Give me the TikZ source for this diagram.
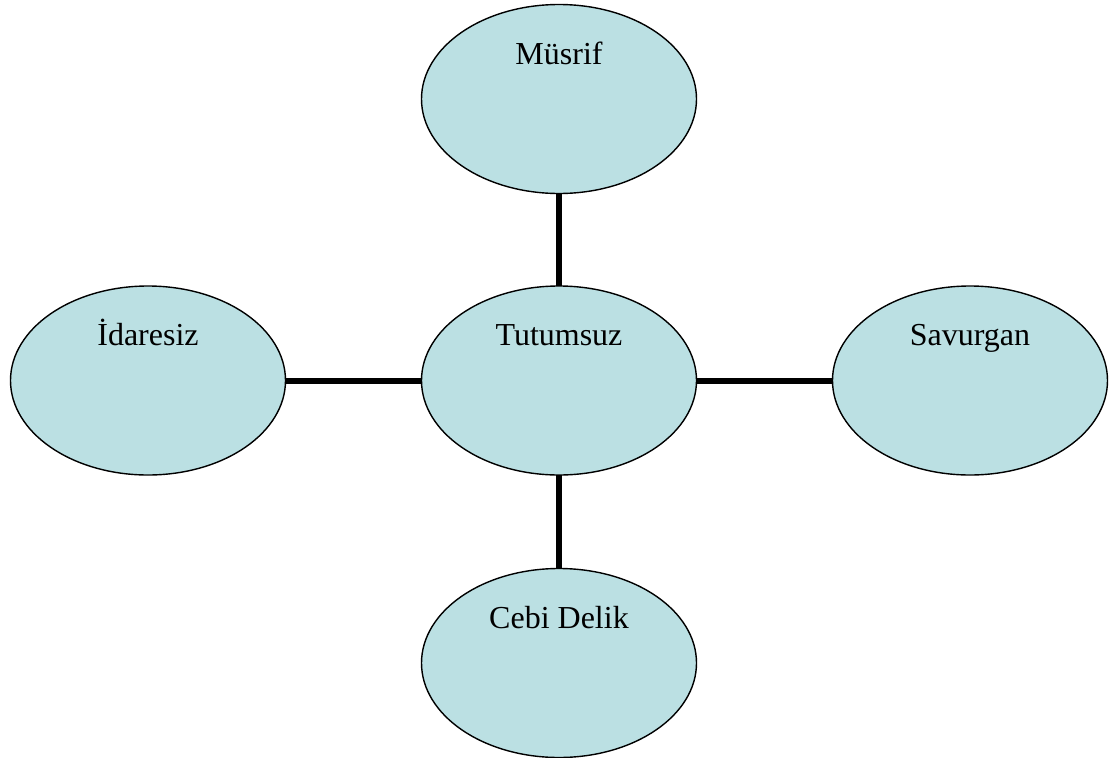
\documentclass[tikz,border=0pt]{standalone}
\usepackage{fontspec}
\setmainfont{Liberation Serif}
\usetikzlibrary{shapes.geometric}
\definecolor{bubble}{RGB}{187,224,227}
\tikzset{
  bub/.style={ellipse, draw=black, line width=1.4pt, fill=bubble, minimum width=275pt, minimum height=189pt, inner sep=0pt, outer sep=0pt},
  lbl/.style={anchor=base, inner sep=0pt, font=\fontsize{32}{38}\selectfont},
  conn/.style={line width=6pt}
}
\begin{document}
\begin{tikzpicture}[x=1pt,y=-1pt]
\useasboundingbox (0,0) rectangle (1109,758);
\node[bub] (m) at (559,99) {};
\node[bub] (t) at (559,380.5) {};
\node[bub] (i) at (148,380.5) {};
\node[bub] (s) at (970,380.5) {};
\node[bub] (c) at (559,663) {};
\draw[conn] (m.south) -- (t.north);
\draw[conn] (t.south) -- (c.north);
\draw[conn] (i.east) -- (t.west);
\draw[conn] (t.east) -- (s.west);
\node[lbl] (lm) at ([yshift=35pt]m.center) {Müsrif};
\node[lbl] (lt) at ([yshift=35pt]t.center) {Tutumsuz};
\node[lbl] (li) at ([yshift=35pt]i.center) {İdaresiz};
\node[lbl] (ls) at ([yshift=35pt]s.center) {Savurgan};
\node[lbl] (lc) at ([yshift=35pt]c.center) {Cebi Delik};
\end{tikzpicture}
\end{document}
